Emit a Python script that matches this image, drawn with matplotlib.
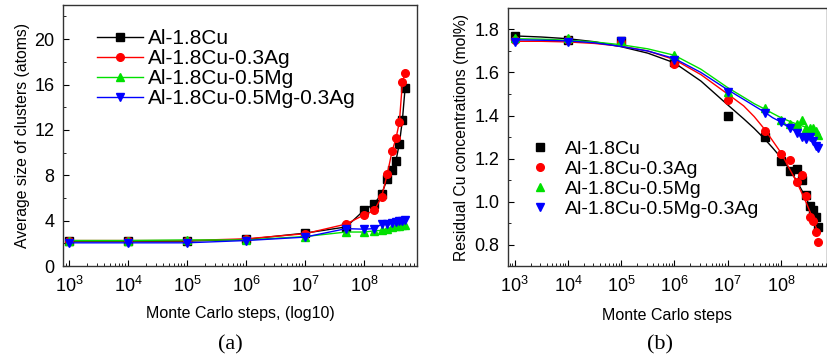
import numpy as np
import matplotlib
matplotlib.use("Agg")
import matplotlib.pyplot as plt
from matplotlib.ticker import FixedLocator, LogLocator, MultipleLocator, NullFormatter

plt.rcParams["font.family"] = ["Liberation Sans", "DejaVu Sans"]
plt.rcParams["mathtext.fontset"] = "custom"
plt.rcParams["mathtext.rm"] = "Liberation Sans"
plt.rcParams["mathtext.it"] = "Liberation Sans"

# ── data ───────────────────────────────────────────────
steps = [1e3, 1e4, 1e5, 1e6, 1e7, 5e7, 1e8, 1.5e8, 2e8, 2.5e8, 3e8, 3.5e8, 4e8, 4.5e8, 5e8]
alloys = ["Al-1.8Cu", "Al-1.8Cu-0.3Ag", "Al-1.8Cu-0.5Mg", "Al-1.8Cu-0.5Mg-0.3Ag"]
decades = [1e3, 1e4, 1e5, 1e6, 1e7, 1e8]

# (a) average cluster size (atoms)
size_cu    = [2.2, 2.2, 2.2, 2.35, 2.9, 3.45, 4.9, 5.5, 6.35, 7.7, 8.5, 9.3, 10.8, 12.9, 15.7]
size_cuag  = [2.25, 2.25, 2.25, 2.4, 2.85, 3.7, 4.5, 4.9, 6.1, 8.15, 10.1, 11.25, 12.7, 16.2, 17.0]
size_cumg  = [2.25, 2.25, 2.3, 2.3, 2.6, 3.0, 3.0, 3.1, 3.15, 3.3, 3.4, 3.5, 3.55, 3.6, 3.65]
size_cumgag = [2.05, 2.05, 2.05, 2.25, 2.55, 3.3, 3.25, 3.3, 3.7, 3.75, 3.8, 3.85, 3.95, 4.0, 4.05]

# (b) residual Cu concentration (mol%) – scatter
res_cu    = [1.77, 1.75, 1.745, 1.65, 1.40, 1.30, 1.19, 1.14, 1.15, 1.10, 1.03, 0.98, 0.96, 0.93, 0.88]
res_cuag  = [1.75, 1.75, 1.74, 1.64, 1.47, 1.33, 1.22, 1.195, 1.09, 1.125, 1.025, 0.93, 0.91, 0.86, 0.81]
res_cumg  = [1.76, 1.76, 1.745, 1.68, 1.51, 1.435, 1.38, 1.36, 1.36, 1.38, 1.34, 1.34, 1.34, 1.33, 1.31]
res_cumgag = [1.74, 1.74, 1.745, 1.66, 1.51, 1.41, 1.37, 1.34, 1.32, 1.30, 1.29, 1.30, 1.28, 1.26, 1.25]

# (b) fitted curves
fit_steps = [1e3, 3.16e3, 1e4, 3.16e4, 1e5, 3.16e5, 1e6, 3.16e6, 1e7, 2e7, 3.16e7,
             5e7, 7e7, 1e8, 1.4e8, 2e8, 3e8, 4e8, 5e8]
fit_cu    = [1.770, 1.765, 1.757, 1.743, 1.720, 1.69, 1.645, 1.56, 1.45, 1.385, 1.34,
             1.29, 1.25, 1.205, 1.155, 1.095, 1.015, 0.945, 0.88]
fit_cuag  = [1.745, 1.745, 1.742, 1.735, 1.722, 1.70, 1.66, 1.59, 1.50, 1.445, 1.395,
             1.335, 1.283, 1.228, 1.16, 1.09, 0.995, 0.92, 0.855]
fit_cumg  = [1.757, 1.755, 1.750, 1.742, 1.729, 1.71, 1.68, 1.615, 1.53, 1.485, 1.455,
             1.43, 1.41, 1.39, 1.375, 1.36, 1.345, 1.332, 1.32]
fit_cumgag = [1.752, 1.750, 1.747, 1.738, 1.721, 1.70, 1.665, 1.60, 1.52, 1.475, 1.445,
              1.415, 1.39, 1.37, 1.345, 1.325, 1.30, 1.283, 1.268]

colors  = ["black", "#ff0000", "#00e000", "#0000ff"]
markers = ["s", "o", "^", "v"]

fig = plt.figure(figsize=(8.27, 3.62), dpi=100)
ax1 = fig.add_axes([0.0762, 0.265, 0.428, 0.721])
ax2 = fig.add_axes([0.614, 0.265, 0.3855, 0.713])

# ── (a) cluster size ───────────────────────────────────
for vals, c, m, lab in zip([size_cu, size_cuag, size_cumg, size_cumgag], colors, markers, alloys):
    ax1.plot(steps, vals, color=c, marker=m, ms=5.5, lw=1.0, label=lab)
ax1.set_xscale("log")
ax1.set_xlim(10**2.9, 10**8.9)
ax1.set_ylim(0, 23)
ax1.yaxis.set_major_locator(MultipleLocator(4))
ax1.yaxis.set_minor_locator(MultipleLocator(2))
ax1.set_ylabel("Average size of clusters (atoms)", fontsize=11.3, labelpad=3)
ax1.set_xlabel("Monte Carlo steps, (log10)", fontsize=11.5, labelpad=7)
ax1.legend(loc="upper left", bbox_to_anchor=(0.096, 0.908), frameon=False,
           fontsize=15, handlelength=2.2, handletextpad=0.25, labelspacing=0.05,
           borderpad=0, borderaxespad=0)

# ── (b) residual Cu ────────────────────────────────────
for pts, fit, c, m, lab in zip([res_cu, res_cuag, res_cumg, res_cumgag],
                               [fit_cu, fit_cuag, fit_cumg, fit_cumgag],
                               colors, markers, alloys):
    ax2.plot(steps, pts, color=c, marker=m, ms=5.5, lw=0, label=lab)
    ax2.plot(fit_steps, fit, color=c, lw=1.0)
ax2.set_xscale("log")
ax2.set_xlim(10**2.87, 10**8.86)
ax2.set_ylim(0.7, 1.9)
ax2.yaxis.set_major_locator(MultipleLocator(0.2))
ax2.yaxis.set_minor_locator(MultipleLocator(0.1))
ax2.set_ylabel("Residual Cu concentrations (mol%)", fontsize=11.3, labelpad=4)
ax2.set_xlabel("Monte Carlo steps", fontsize=11.5, labelpad=9)
ax2.legend(loc="upper left", bbox_to_anchor=(0.063, 0.488), frameon=False,
           fontsize=14, handlelength=1.2, handletextpad=0.7, labelspacing=0.12,
           borderpad=0, borderaxespad=0)

for ax in (ax1, ax2):
    ax.xaxis.set_major_locator(FixedLocator(decades))
    ax.xaxis.set_minor_locator(LogLocator(base=10, subs=np.arange(2, 10), numticks=100))
    ax.xaxis.set_minor_formatter(NullFormatter())
    ax.tick_params(which="both", direction="in", labelsize=13)
    ax.tick_params(axis="x", which="major", pad=7)
    ax.tick_params(axis="y", which="major", pad=6)
    ax.tick_params(which="major", length=4)
    ax.tick_params(which="minor", length=2)
    for sp in ax.spines.values():
        sp.set_linewidth(1.0)
        sp.set_color("#333333")
ax1.set_xticklabels([r"$10^{%d}$" % int(np.log10(d)) for d in decades])
ax2.set_xticklabels([r"$10^{%d}$" % int(np.log10(d)) for d in decades])

fig.text(0.279, 0.035, "(a)", fontsize=16, family="Liberation Serif", ha="center")
fig.text(0.798, 0.035, "(b)", fontsize=16, family="Liberation Serif", ha="center")

fig.savefig("out.png", dpi=100)
